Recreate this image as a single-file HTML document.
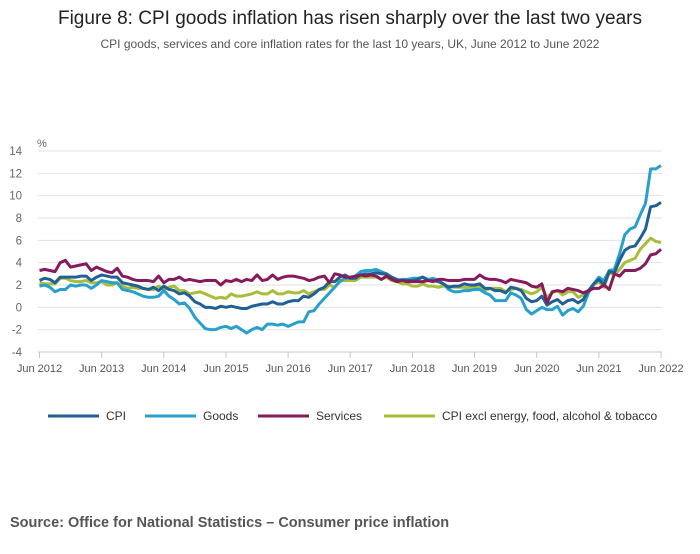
<!DOCTYPE html>
<html><head><meta charset="utf-8"><style>
body{margin:0;background:#fff;font-family:"Liberation Sans",sans-serif}
svg text{font-family:"Liberation Sans",sans-serif}
</style></head><body>
<svg id="c" width="700" height="549">
<text x="350" y="24" text-anchor="middle" font-size="19" fill="#222">Figure 8: CPI goods inflation has risen sharply over the last two years</text>
<text x="350" y="48" text-anchor="middle" font-size="12" fill="#555">CPI goods, services and core inflation rates for the last 10 years, UK, June 2012 to June 2022</text>
<text x="37" y="147" font-size="11" fill="#666">%</text>
<g id="grid"></g><g id="lines"></g><g id="legend"></g>
<text x="10" y="527" font-size="14.5" font-weight="bold" fill="#555">Source: Office for National Statistics – Consumer price inflation</text>
</svg>
<script>
const yTicks=[-4,-2,0,2,4,6,8,10,12,14];
const xTickLabels=["Jun 2012","Jun 2013","Jun 2014","Jun 2015","Jun 2016","Jun 2017","Jun 2018","Jun 2019","Jun 2020","Jun 2021","Jun 2022"];
const cpi=[2.4,2.6,2.5,2.2,2.7,2.7,2.7,
2.7,2.8,2.8,2.4,2.7,2.9,2.8,2.7,2.7,2.2,2.1,2.0,
1.9,1.7,1.6,1.8,1.5,1.9,1.6,1.5,1.2,1.3,1.0,0.5,
0.3,0.0,0.0,-0.1,0.1,0.0,0.1,0.0,-0.1,-0.1,0.1,0.2,
0.3,0.3,0.5,0.3,0.3,0.5,0.6,0.6,1.0,0.9,1.2,1.6,
1.8,2.3,2.3,2.7,2.9,2.6,2.6,2.9,3.0,3.0,3.1,3.0,
3.0,2.7,2.5,2.4,2.4,2.4,2.5,2.7,2.4,2.4,2.3,2.1,
1.8,1.9,1.9,2.1,2.0,2.0,2.1,1.7,1.7,1.5,1.5,1.3,
1.8,1.7,1.5,0.8,0.5,0.6,1.0,0.2,0.5,0.7,0.3,0.6,
0.7,0.4,0.7,1.5,2.1,2.5,2.0,3.2,3.1,4.2,5.1,5.4,
5.5,6.2,7.0,9.0,9.1,9.4];
const goods=[1.9,2.0,1.8,1.4,1.6,1.6,2.0,
1.9,2.0,2.0,1.7,2.0,2.4,2.3,2.2,2.2,1.6,1.5,1.4,
1.2,1.0,0.9,0.9,1.0,1.5,1.0,0.7,0.3,0.4,-0.1,-0.9,
-1.4,-1.9,-2.0,-2.0,-1.8,-1.7,-1.9,-1.7,-2.0,-2.3,-2.0,-1.8,
-2.0,-1.5,-1.5,-1.6,-1.5,-1.7,-1.5,-1.3,-1.3,-0.4,-0.3,0.3,
0.8,1.3,1.8,2.3,2.6,2.6,2.8,3.2,3.3,3.3,3.4,3.2,
3.0,2.6,2.4,2.5,2.5,2.6,2.6,2.7,2.5,2.6,2.4,2.1,
1.6,1.4,1.4,1.5,1.5,1.6,1.6,1.3,1.1,0.6,0.6,0.6,
1.3,1.1,0.8,-0.2,-0.6,-0.3,0.0,-0.2,-0.2,0.1,-0.7,-0.3,
-0.1,-0.4,0.1,1.3,2.1,2.7,2.4,3.3,3.4,4.8,6.5,7.0,
7.2,8.3,9.3,12.4,12.4,12.7];
const services=[3.3,3.4,3.3,3.2,4.0,4.2,3.6,
3.7,3.8,3.9,3.3,3.6,3.4,3.2,3.1,3.5,2.8,2.7,2.5,
2.4,2.4,2.4,2.3,2.8,2.2,2.5,2.5,2.7,2.4,2.5,2.4,
2.3,2.4,2.4,2.4,2.0,2.4,2.3,2.5,2.3,2.5,2.4,2.9,
2.4,2.5,2.9,2.5,2.7,2.8,2.8,2.7,2.6,2.4,2.5,2.7,
2.8,2.2,3.0,2.9,2.7,2.7,2.8,2.9,2.8,2.9,2.8,2.5,
2.8,2.5,2.3,2.4,2.3,2.3,2.3,2.3,2.4,2.3,2.5,2.5,
2.4,2.4,2.4,2.5,2.5,2.5,2.9,2.6,2.5,2.5,2.4,2.2,
2.5,2.4,2.3,2.2,1.9,1.8,2.1,0.4,1.4,1.5,1.4,1.7,
1.6,1.5,1.3,1.5,1.7,1.7,2.0,1.6,3.0,2.8,3.3,3.3,
3.3,3.5,3.9,4.7,4.8,5.2];
const core=[2.2,2.1,2.1,2.1,2.6,2.6,2.4,
2.3,2.3,2.4,2.2,2.2,2.3,2.0,2.0,2.2,1.9,1.7,1.8,
1.7,1.7,1.6,1.6,1.9,1.6,1.8,1.9,1.5,1.5,1.2,1.3,
1.4,1.2,1.0,0.8,0.9,0.8,1.2,1.0,1.0,1.1,1.2,1.4,
1.2,1.2,1.5,1.2,1.2,1.4,1.3,1.3,1.5,1.2,1.4,1.6,
1.6,2.0,1.8,2.4,2.4,2.4,2.4,2.7,2.7,2.7,2.7,2.5,
2.7,2.4,2.3,2.1,2.1,1.9,1.9,2.1,1.9,1.9,1.8,1.9,
1.9,1.8,1.8,1.8,1.7,1.8,1.9,1.5,1.7,1.7,1.7,1.4,
1.6,1.7,1.6,1.4,1.2,1.4,1.8,0.9,1.3,1.5,1.1,1.4,
1.4,0.9,1.1,1.3,2.0,2.3,1.8,3.1,2.9,3.4,4.0,4.2,
4.4,5.2,5.7,6.2,5.9,5.8];
const seriesNames=["CPI","Goods","Services","CPI excl energy, food, alcohol & tobacco"];

const NS="http://www.w3.org/2000/svg";
const X0=39.5,X1=661,Y0=352,Y1=151;
const xs=i=>X0+(X1-X0)*i/(cpi.length-1);
const ys=v=>Y0-(v-(-4))*(Y0-Y1)/18;
function mk(t,a,p){const e=document.createElementNS(NS,t);for(const k in a)e.setAttribute(k,a[k]);p.appendChild(e);return e;}
const grid=document.getElementById('grid');
yTicks.forEach(v=>{
 const l=mk('line',{x1:38,x2:662,y1:ys(v),y2:ys(v),stroke:v==-4?'#bcc8d8':'#e2e2e2','stroke-width':1},grid);
 
 
 const t=mk('text',{x:22,y:ys(v)+4,'text-anchor':'end','font-size':11.5,fill:'#666'},grid);
 t.textContent=v;
 
 
});
xTickLabels.forEach((s,k)=>{
 const x=xs(k*12);
 const tk=mk('line',{x1:x,x2:x,y1:Y0,y2:Y0+6,stroke:'#bcc8d8'},grid);
 
 
 const t=mk('text',{x:x,y:372,'text-anchor':'middle','font-size':11,fill:'#555'},grid);
 t.textContent=s;
 
 
});
const colors=['#206095','#27a0cc','#871a5b','#a8bd3a'];
const data=[cpi,goods,services,core];
const lines=document.getElementById('lines');
[3,1,0,2].forEach(s=>{
 const d=data[s].map((v,i)=>(i?'L':'M')+xs(i).toFixed(2)+' '+ys(v).toFixed(2)).join(' ');
 const p=mk('path',{d:d,fill:'none',stroke:colors[s],'stroke-width':3,'stroke-linejoin':'round'},lines);
 
 
});
const lg=document.getElementById('legend');
const lx=[48,145,258,384];
seriesNames.forEach((n,s)=>{
 const l=mk('line',{x1:lx[s],x2:lx[s]+51,y1:416,y2:416,stroke:colors[s],'stroke-width':3},lg);
 
 
 const t=mk('text',{x:lx[s]+58,y:420,'font-size':12,fill:'#333'},lg);
 t.textContent=n;
 
 
});
</script>
</body></html>
